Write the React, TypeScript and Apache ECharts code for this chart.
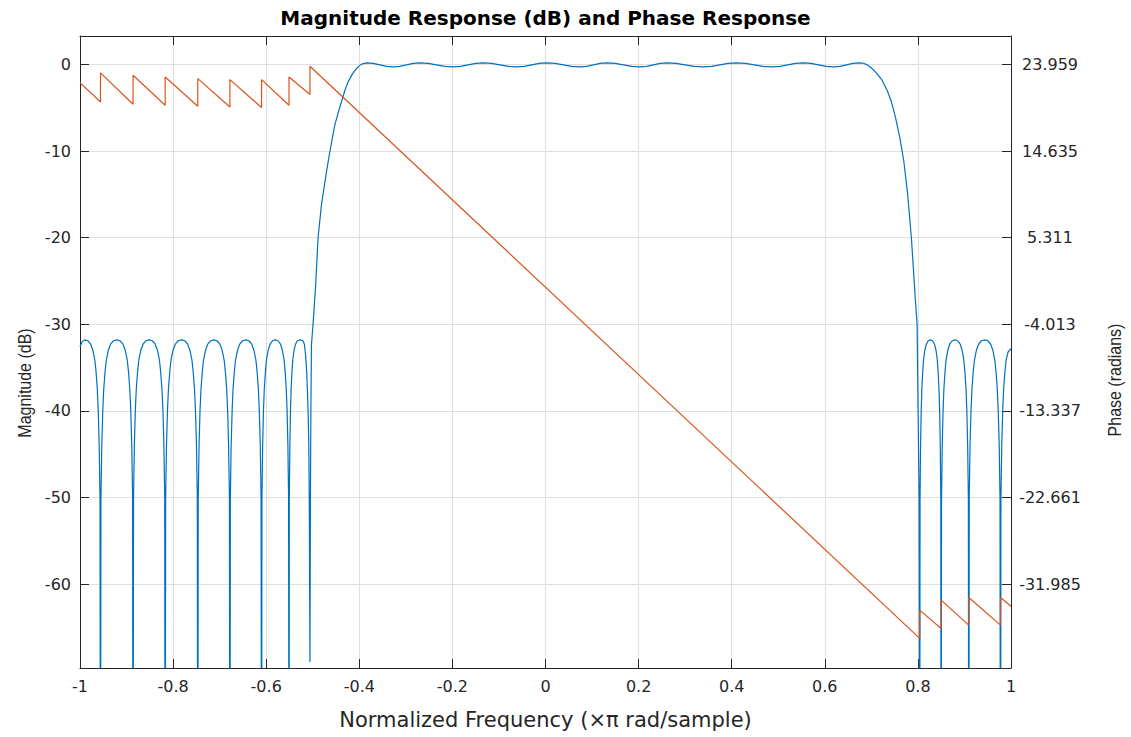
import React, { useEffect, useRef } from "react";
import * as echarts from "echarts";

const TITLE = "Magnitude Response (dB) and Phase Response";
const X_NAME = "Normalized Frequency (\u00D7\u03C0 rad/sample)";
const Y_NAME_LEFT = "Magnitude (dB)";
const Y_NAME_RIGHT = "Phase (radians)";

const freqRange = [-1, 1];
const magRange = [-69.7, 3.3];
const magTicks = [0, -10, -20, -30, -40, -50, -60];
const phaseTicks = [23.959, 14.635, 5.311, -4.013, -13.337, -22.661, -31.985];

// stopband (left) magnitude [normalized frequency, dB]
const magStopLeft: [number, number][] = [
  [-1.0, -32.6], [-0.995, -32.0], [-0.99, -31.8], [-0.9832, -31.9], [-0.9771, -32.3], [-0.9723, -33], [-0.9682, -34.1], [-0.9655, -35.5], [-0.9628, -37.5], [-0.9608, -40], [-0.9587, -44], [-0.957, -50], [-0.956, -100],
  [-0.955, -50], [-0.9532, -44], [-0.9511, -40], [-0.949, -37.5], [-0.9462, -35.5], [-0.9434, -34.1], [-0.9392, -33], [-0.9343, -32.3], [-0.928, -31.9], [-0.921, -31.8], [-0.914, -31.9], [-0.9077, -32.3], [-0.9028, -33], [-0.8986, -34.1], [-0.8958, -35.5], [-0.893, -37.5], [-0.8909, -40], [-0.8888, -44], [-0.887, -50], [-0.886, -100],
  [-0.885, -50], [-0.8832, -44], [-0.8812, -40], [-0.8791, -37.5], [-0.8763, -35.5], [-0.8736, -34.1], [-0.8694, -33], [-0.8646, -32.3], [-0.8584, -31.9], [-0.8515, -31.8], [-0.8446, -31.9], [-0.8384, -32.3], [-0.8336, -33], [-0.8294, -34.1], [-0.8267, -35.5], [-0.8239, -37.5], [-0.8218, -40], [-0.8198, -44], [-0.818, -50], [-0.817, -100],
  [-0.816, -50], [-0.8142, -44], [-0.8121, -40], [-0.81, -37.5], [-0.8072, -35.5], [-0.8044, -34.1], [-0.8002, -33], [-0.7953, -32.3], [-0.789, -31.9], [-0.782, -31.8], [-0.775, -31.9], [-0.7687, -32.3], [-0.7638, -33], [-0.7596, -34.1], [-0.7568, -35.5], [-0.754, -37.5], [-0.7519, -40], [-0.7498, -44], [-0.748, -50], [-0.747, -100],
  [-0.746, -50], [-0.7442, -44], [-0.7422, -40], [-0.7401, -37.5], [-0.7373, -35.5], [-0.7346, -34.1], [-0.7304, -33], [-0.7256, -32.3], [-0.7194, -31.9], [-0.7125, -31.8], [-0.7056, -31.9], [-0.6994, -32.3], [-0.6946, -33], [-0.6904, -34.1], [-0.6877, -35.5], [-0.6849, -37.5], [-0.6828, -40], [-0.6808, -44], [-0.679, -50], [-0.678, -100],
  [-0.677, -50], [-0.6753, -44], [-0.6732, -40], [-0.6712, -37.5], [-0.6685, -35.5], [-0.6658, -34.1], [-0.6617, -33], [-0.6569, -32.3], [-0.6508, -31.9], [-0.644, -31.8], [-0.6372, -31.9], [-0.6311, -32.3], [-0.6263, -33], [-0.6222, -34.1], [-0.6195, -35.5], [-0.6168, -37.5], [-0.6148, -40], [-0.6127, -44], [-0.611, -50], [-0.61, -100],
  [-0.6091, -50], [-0.6076, -44], [-0.6059, -40], [-0.6041, -37.5], [-0.6017, -35.5], [-0.5994, -34.1], [-0.5958, -33], [-0.5917, -32.3], [-0.5864, -31.9], [-0.5805, -31.8], [-0.5746, -31.9], [-0.5693, -32.3], [-0.5652, -33], [-0.5616, -34.1], [-0.5593, -35.5], [-0.5569, -37.5], [-0.5551, -40], [-0.5534, -44], [-0.5519, -50], [-0.551, -100],
  [-0.5503, -50], [-0.5492, -44], [-0.5478, -40], [-0.5465, -37.5], [-0.5447, -35.5], [-0.5429, -34.1], [-0.5402, -33], [-0.537, -32.3], [-0.533, -31.9], [-0.5265, -31.8], [-0.521, -31.9], [-0.518, -32.3], [-0.5155, -33.5], [-0.513, -35.5], [-0.5115, -37.5], [-0.51, -40], [-0.5085, -44], [-0.5075, -50], [-0.506, -69],
];

// passband and transitions [normalized frequency, dB]
const magPass: [number, number][] = [
  [-0.505, -50], [-0.504, -40], [-0.5028, -32.4], [-0.4994, -30], [-0.4942, -25.9], [-0.4886, -20.0], [-0.4813, -16.2], [-0.4705, -12.4], [-0.4634, -10.1], [-0.4527, -7.0], [-0.445, -5.5], [-0.4383, -4.3], [-0.431, -3.0], [-0.4241, -2.0], [-0.415, -1.1], [-0.406, -0.46], [-0.4, -0.15], [-0.395, 0.05],
  [-0.3845, 0.2], [-0.3702, 0.13], [-0.3559, -0.035], [-0.3416, -0.2], [-0.3273, -0.27], [-0.313, -0.2], [-0.2986, -0.035], [-0.2843, 0.13],
  [-0.2699, 0.2], [-0.252, 0.13], [-0.2341, -0.035], [-0.2162, -0.2], [-0.1983, -0.27], [-0.1822, -0.2], [-0.1661, -0.035], [-0.1499, 0.13],
  [-0.1338, 0.2], [-0.1158, 0.13], [-0.0979, -0.035], [-0.0799, -0.2], [-0.0619, -0.27], [-0.0458, -0.2], [-0.0297, -0.035], [-0.0135, 0.13],
  [0.0026, 0.2], [0.0205, 0.13], [0.0384, -0.035], [0.0563, -0.2], [0.0742, -0.27], [0.0886, -0.2], [0.1029, -0.035], [0.1173, 0.13],
  [0.1316, 0.2], [0.1495, 0.13], [0.1674, -0.035], [0.1853, -0.2], [0.2032, -0.27], [0.2176, -0.2], [0.2319, -0.035], [0.2463, 0.13],
  [0.2606, 0.2], [0.2803, 0.13], [0.3, -0.035], [0.3197, -0.2], [0.3394, -0.27], [0.3571, -0.2], [0.3747, -0.035], [0.3924, 0.13],
  [0.41, 0.2], [0.4291, 0.13], [0.4483, -0.035], [0.4674, -0.2], [0.4865, -0.27], [0.5034, -0.2], [0.5203, -0.035], [0.5371, 0.13],
  [0.554, 0.2], [0.5703, 0.13], [0.5865, -0.035], [0.6028, -0.2], [0.619, -0.27], [0.6328, -0.2], [0.6465, -0.035], [0.6603, 0.13],
  [0.674, 0.2], [0.683, 0.15], [0.69, 0.0], [0.698, -0.3], [0.705, -0.66], [0.7122, -1.04], [0.723, -1.8], [0.7338, -2.97], [0.743, -4.3], [0.7516, -6.05], [0.761, -8.4], [0.7695, -11.05],
  [0.778, -15], [0.786, -20], [0.792, -25], [0.7946, -27.2], [0.7983, -30], [0.8004, -40], [0.8026, -50], [0.8039, -100],
];

// stopband (right) magnitude [normalized frequency, dB]
const magStopRight: [number, number][] = [
  [0.8046, -50], [0.8057, -44], [0.8071, -40], [0.8085, -37.5], [0.8103, -35.5], [0.8122, -34.1], [0.8149, -33], [0.8182, -32.3], [0.8223, -31.9], [0.8269, -31.8], [0.8315, -31.9], [0.8356, -32.3], [0.8389, -33], [0.8416, -34.1], [0.8435, -35.5], [0.8453, -37.5], [0.8467, -40], [0.8481, -44], [0.8492, -50], [0.8499, -100],
  [0.8508, -50], [0.8523, -44], [0.8541, -40], [0.8558, -37.5], [0.8582, -35.5], [0.8606, -34.1], [0.8642, -33], [0.8683, -32.3], [0.8737, -31.9], [0.8796, -31.8], [0.8855, -31.9], [0.8909, -32.3], [0.895, -33], [0.8986, -34.1], [0.901, -35.5], [0.9034, -37.5], [0.9051, -40], [0.9069, -44], [0.9084, -50], [0.9093, -100],
  [0.9103, -50], [0.912, -44], [0.9141, -40], [0.9161, -37.5], [0.9188, -35.5], [0.9216, -34.1], [0.9256, -33], [0.9304, -32.3], [0.9365, -31.9], [0.9433, -31.8], [0.9502, -31.9], [0.9563, -32.3], [0.9611, -33], [0.9651, -34.1], [0.9679, -35.5], [0.9706, -37.5], [0.9726, -40], [0.9747, -44], [0.9764, -50], [0.9774, -100],
  [0.9784, -50], [0.9801, -44], [0.9822, -40], [0.9842, -37.5], [0.9869, -35.5], [0.9896, -34.1], [0.9937, -33.2], [1.0, -32.8],
];

// phase response [normalized frequency, radians]
const phase: [number, number][] = [
  [-1.0, 22.02], [-0.956, 19.93], [-0.956, 23.07], [-0.886, 19.68], [-0.886, 22.81], [-0.817, 19.58], [-0.817, 22.62],
  [-0.747, 19.47], [-0.747, 22.45], [-0.678, 19.39], [-0.678, 22.34], [-0.61, 19.33], [-0.61, 22.34], [-0.551, 19.58],
  [-0.551, 22.62], [-0.506, 20.73], [-0.506, 23.78], [0.8039, -37.84], [0.8039, -34.8], [0.8499, -36.77], [0.8499, -33.72],
  [0.9093, -36.41], [0.9093, -33.43], [0.9774, -36.41], [0.9774, -33.43], [1.0, -34.37],
];

const AXIS_COLOR = "#262626";
const GRID_COLOR = "#dfdfdf";
const FONT = "DejaVu Sans";

export default function App() {
  const ref = useRef<HTMLDivElement>(null);
  useEffect(() => {
    document.body.style.margin = "0";
    const chart = echarts.init(ref.current!, undefined, { renderer: "svg" });
    const magnitude = [...magStopLeft, ...magPass, ...magStopRight];
    // linear relation between the two y scales, taken from the paired tick labels
    const k = (phaseTicks[0] - phaseTicks[1]) / (magTicks[0] - magTicks[1]);
    const toPhase = (db: number) => phaseTicks[0] + k * (db - magTicks[0]);
    const gridL = 80, gridR = 120, gridT = 36, gridB = 69;
    const plotCx = gridL + (1131 - gridL - gridR) / 2;
    const plotCy = gridT + (737 - gridT - gridB) / 2;
    const option: any = {
      animation: false,
      backgroundColor: "#ffffff",
      grid: { left: gridL, right: gridR, top: gridT, bottom: gridB, containLabel: false, outerBoundsMode: "none" },
      xAxis: [
        {
          type: "value", min: freqRange[0], max: freqRange[1], interval: 0.2, position: "bottom",
          axisLine: { show: true, onZero: false, lineStyle: { color: AXIS_COLOR, width: 1 } },
          axisTick: { show: true, inside: true, length: 9, lineStyle: { color: AXIS_COLOR } },
          axisLabel: { color: AXIS_COLOR, fontFamily: FONT, fontSize: 16, margin: 10 },
          splitLine: { show: true, lineStyle: { color: GRID_COLOR, width: 1 } },
        },
        {
          type: "value", min: freqRange[0], max: freqRange[1], interval: 0.2, position: "top",
          axisLine: { show: true, onZero: false, lineStyle: { color: AXIS_COLOR, width: 1 } },
          axisTick: { show: true, inside: true, length: 9, lineStyle: { color: AXIS_COLOR } },
          axisLabel: { show: false },
          splitLine: { show: false },
        },
      ],
      yAxis: [
        {
          type: "value", min: magRange[0], max: magRange[1], splitNumber: 7, position: "left",
          axisLine: { show: true, onZero: false, lineStyle: { color: AXIS_COLOR, width: 1 } },
          axisTick: { show: true, inside: true, length: 9, lineStyle: { color: AXIS_COLOR } },
          axisLabel: { color: AXIS_COLOR, fontFamily: FONT, fontSize: 16, margin: 9, showMinLabel: false, showMaxLabel: false },
          splitLine: { show: true, lineStyle: { color: GRID_COLOR, width: 1 } },
        },
        {
          type: "value", min: toPhase(magRange[0]), max: toPhase(magRange[1]), position: "right",
          axisLine: { show: true, onZero: false, lineStyle: { color: AXIS_COLOR, width: 1 } },
          axisTick: { show: true, inside: true, length: 9, customValues: phaseTicks, lineStyle: { color: AXIS_COLOR } },
          axisLabel: {
            color: AXIS_COLOR, fontFamily: FONT, fontSize: 16, margin: 39, align: "center",
            customValues: phaseTicks, formatter: (v: number) => v.toFixed(3),
          },
          splitLine: { show: false },
        },
      ],
      series: [
        {
          type: "line", name: "Magnitude", xAxisIndex: 0, yAxisIndex: 0, data: magnitude,
          showSymbol: false, clip: true,
          lineStyle: { color: "#0072BD", width: 1.2 }, itemStyle: { color: "#0072BD" },
        },
        {
          type: "line", name: "Phase", xAxisIndex: 0, yAxisIndex: 1, data: phase,
          showSymbol: false, clip: true,
          lineStyle: { color: "#D95319", width: 1.2 }, itemStyle: { color: "#D95319" },
        },
      ],
      graphic: [
        {
          type: "text", x: plotCx, y: 18,
          style: { text: TITLE, fontFamily: FONT, fontSize: 20, fontWeight: "bold", fill: "#000", textAlign: "center", textVerticalAlign: "middle" },
        },
        {
          type: "text", x: plotCx, y: 720,
          style: { text: X_NAME, fontFamily: FONT, fontSize: 21, fill: AXIS_COLOR, textAlign: "center", textVerticalAlign: "middle" },
        },
        {
          type: "text", x: 24, y: plotCy + 31, rotation: Math.PI / 2, scaleY: 1.2,
          style: { text: Y_NAME_LEFT, fontFamily: "Liberation Sans", fontSize: 16, fill: AXIS_COLOR, textAlign: "center", textVerticalAlign: "middle" },
        },
        {
          type: "text", x: 1114, y: plotCy + 28, rotation: Math.PI / 2, scaleY: 1.2,
          style: { text: Y_NAME_RIGHT, fontFamily: "Liberation Sans", fontSize: 16, fill: AXIS_COLOR, textAlign: "center", textVerticalAlign: "middle" },
        },
      ],
    };
    chart.setOption(option);
    return () => chart.dispose();
  }, []);
  return <div ref={ref} style={{ width: 1131, height: 737, background: "#fff", overflow: "hidden" }} />;
}
